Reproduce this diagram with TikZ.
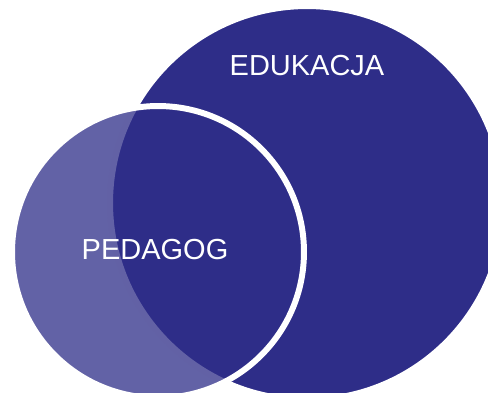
\documentclass[tikz,border=0pt]{standalone}
\usepackage{fontspec}
\setmainfont{Liberation Sans}
\definecolor{navy}{HTML}{2E2D88}
\tikzset{
  ring/.style={circle,inner sep=0pt,draw=white,line width=3.4pt,fill=navy},
  label/.style={text=white,font=\fontsize{16.5}{20}\selectfont}
}
\begin{document}
\begin{tikzpicture}[x=0.02cm,y=-0.02cm]
  \useasboundingbox (0,0) rectangle (488,393);
  \clip (0,0) rectangle (488,393);

  \node[ring,minimum size=7.88cm] (edukacja) at (307,203) {};
  \node[ring,fill opacity=0.75,minimum size=5.84cm] (pedagog) at (158,252) {};

  \node[label] (edutext) at (307,65.5) {EDUKACJA};
  \node[label] (pedtext) at (155,249.5) {PEDAGOG};

\end{tikzpicture}
\end{document}
